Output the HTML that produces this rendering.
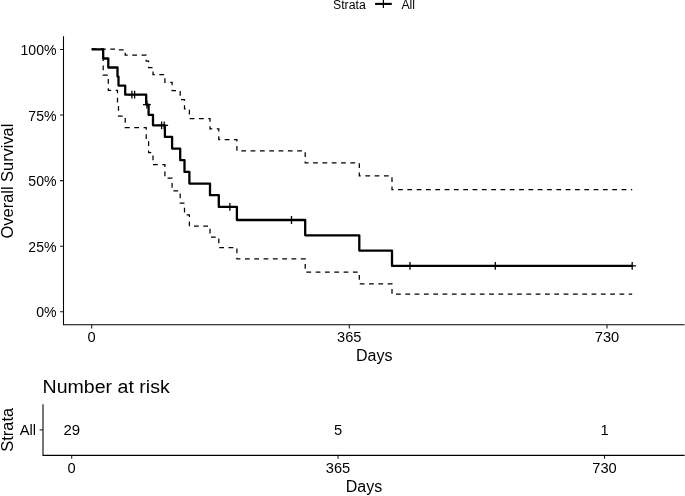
<!DOCTYPE html>
<html><head><meta charset="utf-8"><title>Survival</title>
<style>
html,body{margin:0;padding:0;background:#fff;}
svg{display:block;}
text{font-family:"Liberation Sans",Arial,sans-serif;fill:#000;}
.ax{font-size:14.67px;fill:#000;}
.ti{font-size:16px;}
.lg{font-size:12.3px;}
</style></head><body>
<svg width="685" height="496" viewBox="0 0 685 496">
<rect x="0" y="0" width="685" height="496" fill="#fff"/>
<!-- legend -->
<text class="lg" x="333" y="8.8">Strata</text>
<path d="M375.1 3.9 H391.8" stroke="#000" stroke-width="2.1" fill="none"/>
<path d="M383.4 -0.3 V8.1" stroke="#000" stroke-width="1.2" fill="none"/>
<text class="lg" x="401.4" y="8.8">All</text>
<!-- main axes -->
<path d="M63.5 36.3 V324.8 H684.6" stroke="#000" stroke-width="1.07" fill="none"/>
<path d="M60 49.45 H63.5 M60 115.05 H63.5 M60 180.6 H63.5 M60 246.2 H63.5 M60 311.8 H63.5" stroke="#1a1a1a" stroke-width="1.07" fill="none"/>
<path d="M91.7 324.8 V328.4 M349.3 324.8 V328.4 M607 324.8 V328.4" stroke="#1a1a1a" stroke-width="1.07" fill="none"/>
<g class="ax" text-anchor="end">
<text transform="translate(56.5 54.9) scale(0.96 1)">100%</text>
<text transform="translate(56.5 120.5) scale(0.96 1)">75%</text>
<text transform="translate(56.5 186) scale(0.96 1)">50%</text>
<text transform="translate(56.5 251.6) scale(0.96 1)">25%</text>
<text transform="translate(56.5 317.2) scale(0.96 1)">0%</text>
</g>
<g class="ax" text-anchor="middle">
<text x="91.7" y="341.8">0</text>
<text x="349.3" y="341.8">365</text>
<text x="607" y="341.8">730</text>
</g>
<text class="ti" text-anchor="middle" x="374.2" y="360.6">Days</text>
<text class="ti" style="font-size:16.4px" text-anchor="middle" transform="translate(13.4 181) rotate(-90)">Overall Survival</text>
<path transform="translate(0 -0.3)" d="M91.7 49.4 L103.2 49.4 L108.3 49.4 L117.5 49.4 L118.5 49.4 L118.5 50.2 L125.2 50.2 L125.2 55.4 L146.2 55.4 L146.2 61.3 L148.6 61.3 L148.6 67.8 L153.0 67.8 L153.0 74.9 L164.9 74.9 L164.9 82.6 L172.1 82.6 L172.1 90.9 L180.2 90.9 L180.2 99.8 L184.5 99.8 L184.5 109.2 L189.4 109.2 L189.4 119.0 L210.0 119.0 L210.0 129.2 L218.8 129.2 L218.8 139.9 L236.9 139.9 L236.9 151.2 L305.2 151.2 L305.2 163.2 L359.3 163.2 L359.3 176.2 L392.0 176.2 L392.0 190.0 L632.2 190.0" fill="none" stroke="#000" stroke-width="1.25" stroke-dasharray="4.75 4.562"/>
<path transform="translate(0 -0.3)" d="M91.7 49.4 L103.2 49.4 L103.2 75.3 L108.3 75.3 L108.3 90.6 L117.5 90.6 L117.5 103.9 L118.5 103.9 L118.5 116.3 L125.2 116.3 L125.2 127.9 L146.2 127.9 L146.2 140.3 L148.6 140.3 L148.6 152.9 L153.0 152.9 L153.0 165.0 L164.9 165.0 L164.9 178.4 L172.1 178.4 L172.1 191.2 L180.2 191.2 L180.2 203.5 L184.5 203.5 L184.5 215.2 L189.4 215.2 L189.4 226.5 L210.0 226.5 L210.0 237.4 L218.8 237.4 L218.8 247.8 L236.9 247.8 L236.9 259.3 L305.2 259.3 L305.2 272.4 L359.3 272.4 L359.3 284.2 L392.0 284.2 L392.0 294.5 L632.2 294.5" fill="none" stroke="#000" stroke-width="1.25" stroke-dasharray="4.75 4.562"/>
<path d="M91.7 49.4 L103.2 49.4 L103.2 58.5 L108.3 58.5 L108.3 67.5 L117.5 67.5 L117.5 76.6 L118.5 76.6 L118.5 85.6 L125.2 85.6 L125.2 94.7 L146.2 94.7 L146.2 104.6 L148.6 104.6 L148.6 114.9 L153.0 114.9 L153.0 125.3 L164.9 125.3 L164.9 136.9 L172.1 136.9 L172.1 148.6 L180.2 148.6 L180.2 160.2 L184.5 160.2 L184.5 171.9 L189.4 171.9 L189.4 183.6 L210.0 183.6 L210.0 195.2 L218.8 195.2 L218.8 206.9 L236.9 206.9 L236.9 220.0 L305.2 220.0 L305.2 235.3 L359.3 235.3 L359.3 250.6 L392.0 250.6 L392.0 265.9 L632.2 265.9" fill="none" stroke="#000" stroke-width="2.3" stroke-linejoin="round"/>
<path d="M131.9 90.8 v7.8 M128.0 94.7 h7.8 M134.6 90.8 v7.8 M130.7 94.7 h7.8 M146.9 100.7 v7.8 M143.0 104.6 h7.8 M161.6 121.4 v7.8 M157.7 125.3 h7.8 M164.2 121.4 v7.8 M160.3 125.3 h7.8 M229.9 203.0 v7.8 M226.0 206.9 h7.8 M291.5 216.1 v7.8 M287.6 220.0 h7.8 M410.0 262.0 v7.8 M406.1 265.9 h7.8 M495.3 262.0 v7.8 M491.4 265.9 h7.8 M632.2 262.0 v7.8 M628.3 265.9 h7.8" fill="none" stroke="#000" stroke-width="1.3"/>
<!-- risk table -->
<text transform="translate(42.5 393) scale(1.042 1)" font-size="18.8px">Number at risk</text>
<path d="M43 404.2 V455.4 H684.6" stroke="#000" stroke-width="1.07" fill="none"/>
<path d="M39.6 429.9 H43" stroke="#1a1a1a" stroke-width="1.07" fill="none"/>
<path d="M71.7 455.4 V458.8 M338 455.4 V458.8 M604.5 455.4 V458.8" stroke="#1a1a1a" stroke-width="1.07" fill="none"/>
<text class="ax" text-anchor="end" x="36" y="435.1">All</text>
<g class="ax" text-anchor="middle">
<text x="71.8" y="435.2" style="font-size:15px">29</text>
<text x="338" y="435.2">5</text>
<text x="604.5" y="435.2">1</text>
<text x="71.7" y="472.6">0</text>
<text x="338" y="472.6">365</text>
<text x="604.5" y="472.6">730</text>
</g>
<text class="ti" text-anchor="middle" x="364" y="492">Days</text>
<text class="ti" style="font-size:16.4px" text-anchor="middle" transform="translate(13 429.8) rotate(-90)">Strata</text>
</svg>
</body></html>
